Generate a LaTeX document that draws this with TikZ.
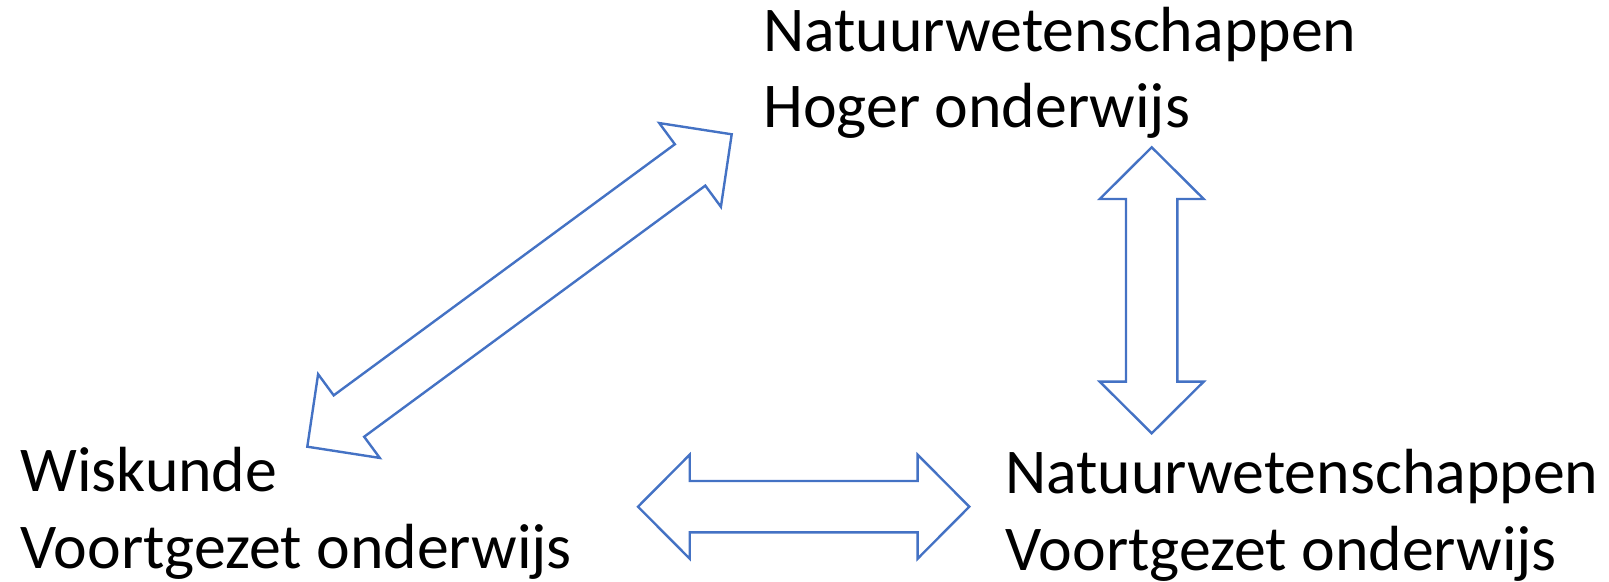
\documentclass[tikz,border=0pt]{standalone}
\usepackage{fontspec}
\setmainfont{Carlito}
\usetikzlibrary{calc}

\definecolor{officeblue}{HTML}{4472C4}

% hollow double arrow from #1 to #2
\newcommand{\blockarrow}[2]{%
  \coordinate (p1) at ($(#1)!25.85pt!(#2)$);
  \coordinate (p2) at ($(#2)!25.85pt!(#1)$);
  \draw[blockarrow] (#1) -- ($(p1)!26pt!90:(#2)$) -- ($(p1)!12.85pt!90:(#2)$)
    -- ($(p2)!12.85pt!-90:(#1)$) -- ($(p2)!26pt!-90:(#1)$) -- (#2)
    -- ($(p2)!26pt!90:(#1)$) -- ($(p2)!12.85pt!90:(#1)$)
    -- ($(p1)!12.85pt!-90:(#2)$) -- ($(p1)!26pt!-90:(#2)$) -- cycle;
}

\begin{document}
\begin{tikzpicture}[x=0.5pt,y=-0.5pt,
  subject/.style={anchor=base west,inner sep=0pt,align=left,
    font=\fontsize{31.9}{38.2}\selectfont},
  blockarrow/.style={draw=officeblue,line width=1.2pt,line join=miter}]

  \useasboundingbox (0,0) rectangle (1609,582);

  % base = last line
  \node[subject] (nwho) at (763,127.7) {Natuurwetenschappen\\Hoger onderwijs};
  \node[subject] (wivo) at (20,568.3) {Wiskunde\\Voortgezet onderwijs};
  \node[subject] (nwvo) at (1005,570) {Natuurwetenschappen\\Voortgezet onderwijs};

  \coordinate (diagl) at (307.3,446.7);
  \coordinate (diagr) at (731.7,134.3);
  \coordinate (vertt) at (1151.7,147.3);
  \coordinate (vertb) at (1151.7,433.3);
  \coordinate (horl) at (638,506.7);
  \coordinate (horr) at (969.3,506.7);

  \blockarrow{diagl}{diagr}
  \blockarrow{vertt}{vertb}
  \blockarrow{horl}{horr}
\end{tikzpicture}
\end{document}
